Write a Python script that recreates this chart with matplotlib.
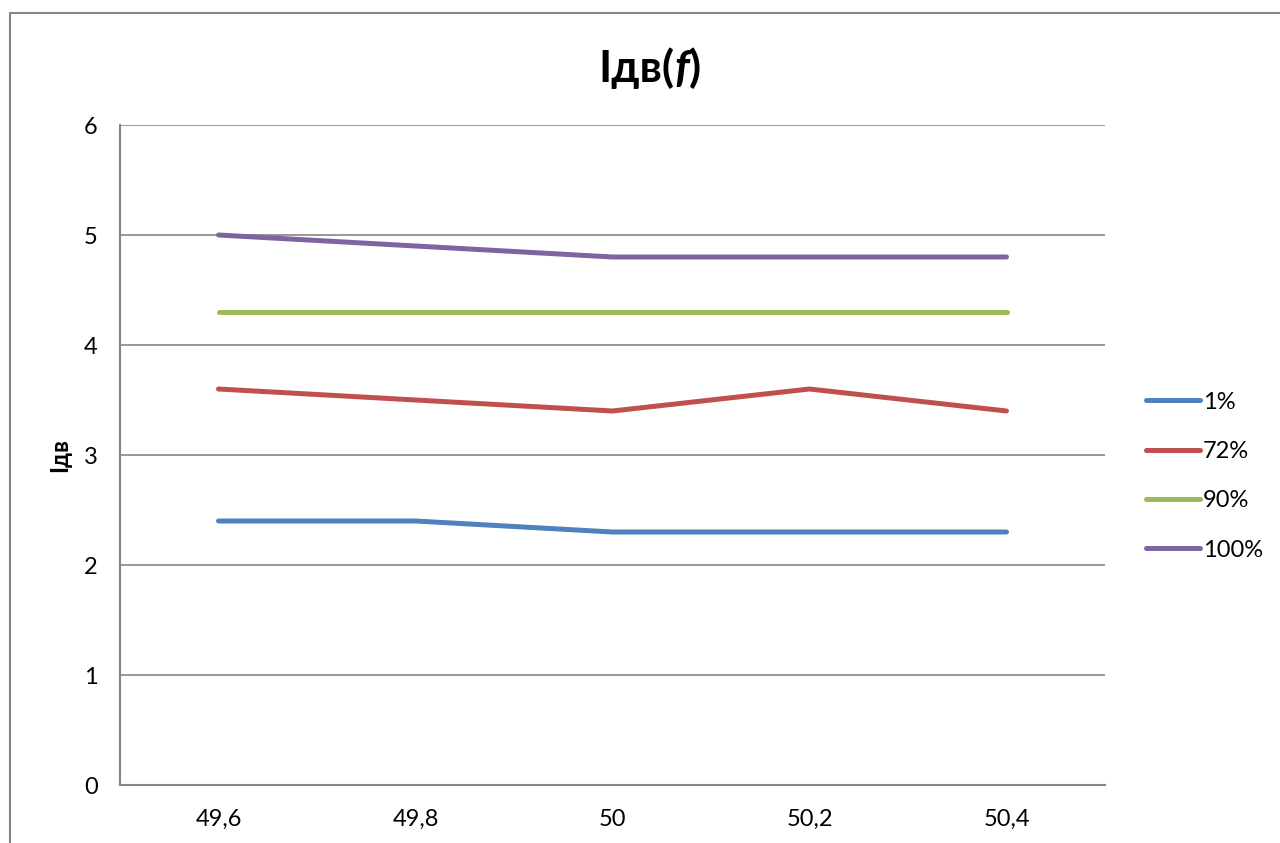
import matplotlib.pyplot as plt
from matplotlib.patches import Rectangle

freq = ["49,6", "49,8", "50", "50,2", "50,4"]
series_names = ["1%", "72%", "90%", "100%"]
i_1 = [2.4, 2.4, 2.3, 2.3, 2.3]
i_72 = [3.6, 3.5, 3.4, 3.6, 3.4]
i_90 = [4.3, 4.3, 4.3, 4.3, 4.3]
i_100 = [5.0, 4.9, 4.8, 4.8, 4.8]
colors = ["#4F81BD", "#C0504D", "#9BBB59", "#8064A2"]

plt.rcParams["font.family"] = ["Lato", "DejaVu Sans"]

fig = plt.figure(figsize=(12.8, 8.43), dpi=100)
# outer chart frame (cropped at right and bottom)
fig.patches.append(Rectangle((10 / 1280, -0.1), 1.2, 1 - 13 / 843 + 0.1, transform=fig.transFigure,
                             fill=False, edgecolor="#868686", linewidth=1.5))

ax = fig.add_axes([120 / 1280, 1 - 785 / 843, (1105 - 120) / 1280, (785 - 125) / 843])
x = range(len(freq))
for vals, name, c in zip([i_1, i_72, i_90, i_100], series_names, colors):
    ax.plot(x, vals, color=c, linewidth=3.6, label=name, solid_capstyle="round")

ax.set_xlim(-0.5, len(freq) - 0.5)
ax.set_ylim(0, 6)
ax.set_yticks(range(7))
ax.set_xticks(list(x))
ax.set_xticklabels(freq)
ax.tick_params(axis="both", length=0, labelsize=17)
ax.tick_params(axis="x", pad=17)
ax.tick_params(axis="y", pad=16)
ax.grid(axis="y", color="#868686", linewidth=1.2)
ax.set_axisbelow(True)
for s in ["top", "right"]:
    ax.spines[s].set_visible(False)
for s in ["left", "bottom"]:
    ax.spines[s].set_color("#868686")
    ax.spines[s].set_linewidth(1.5)

ax.set_ylabel("Iдв", fontsize=17, fontweight="bold", labelpad=9)

# title with italic f
t1 = fig.text(598 / 1280, 1 - 68 / 843, "Iдв(", fontsize=32, fontweight="bold", ha="left", va="center")
t2 = ax.annotate("f", xy=(1, 0), xycoords=t1, fontsize=32, fontweight="bold", style="italic",
                 ha="left", va="bottom", annotation_clip=False)
ax.annotate(")", xy=(1, 0), xycoords=t2, fontsize=32, fontweight="bold", ha="left", va="bottom",
            annotation_clip=False)

ax.legend(loc="center left", bbox_to_anchor=(1.02, 0.468), frameon=False, fontsize=17,
          handlelength=2.3, handletextpad=0.1, labelspacing=1.2)

fig.savefig("out.png", dpi=100)
